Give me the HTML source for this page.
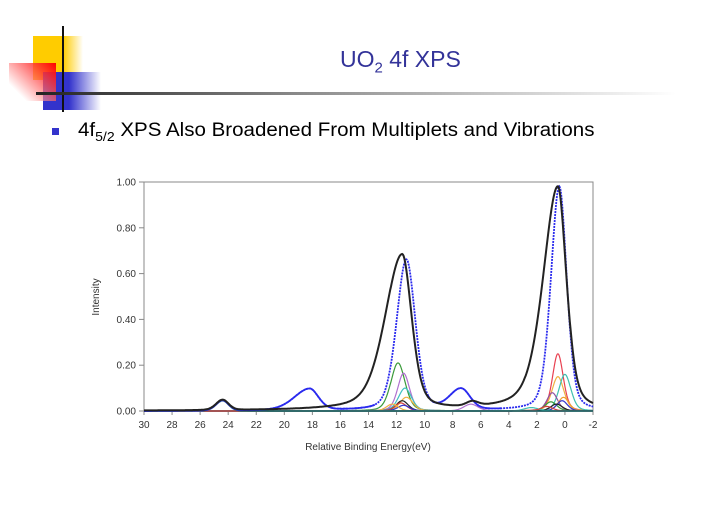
<!DOCTYPE html>
<html><head><meta charset="utf-8"><style>
body{margin:0;width:717px;height:509px;background:#fff;overflow:hidden;position:relative;font-family:"Liberation Sans",sans-serif}
.a{position:absolute}
</style></head><body>
<div class="a" style="left:33px;top:36px;width:50px;height:44px;background:linear-gradient(90deg,#ffcc00 60%,#fff)"></div>
<div class="a" style="left:43px;top:72px;width:58px;height:38px;background:linear-gradient(90deg,#3333cc 45%,#fff)"></div>
<div class="a" style="left:9px;top:63px;width:47px;height:38px;background:linear-gradient(225deg,#ff0000,rgba(255,255,255,0.5) 80%)"></div>
<div class="a" style="left:62px;top:26px;width:2px;height:86px;background:#111"></div>
<div class="a" style="left:36px;top:92px;width:640px;height:3px;background:linear-gradient(90deg,#222,#888 40%,#fff)"></div>
<div class="a" style="left:340px;top:46px;font-size:23px;color:#333399;white-space:nowrap">UO<sub style="font-size:15px">2</sub> 4f XPS</div>
<div class="a" style="left:52px;top:128px;width:7px;height:7px;background:#3333cc"></div>
<div class="a" style="left:78px;top:120px;font-size:19px;color:#000;white-space:nowrap;transform:scaleX(1.08);transform-origin:0 0">4f<sub style="font-size:13px">5/2</sub> XPS Also Broadened From Multiplets and Vibrations</div>
<svg class="a" style="left:0;top:0" width="717" height="509" id="s">
<rect x="144" y="182" width="449" height="229" fill="none" stroke="#888" stroke-width="1"/>
<g id="g"></g>
</svg>
<script>
var X=function(e){return 144+(30-e)*449/32},Y=function(v){return 411-v*229};
var s='',g=document.getElementById('g');
for(var i=0;i<=5;i++){var v=i*0.2,y=Y(v);s+='<line x1="139" x2="144" y1="'+y+'" y2="'+y+'" stroke="#888"/><text x="136" y="'+(y+3.5)+'" font-size="10" fill="#333" text-anchor="end">'+v.toFixed(2)+'</text>';}
for(var e=30;e>=-2;e-=2){var x=X(e);s+='<line x1="'+x+'" x2="'+x+'" y1="411" y2="415" stroke="#888"/><text x="'+x+'" y="428" font-size="10" fill="#333" text-anchor="middle">'+e+'</text>';}
s+='<text x="368" y="450" font-size="10" fill="#333" text-anchor="middle">Relative Binding Energy(eV)</text>';
s+='<text transform="translate(99,297) rotate(-90)" font-size="10" fill="#333" text-anchor="middle">Intensity</text>';
function pv(x,c,h,wl,wr,m){var w=x>c?wl:wr,d=(x-c)/w;return h*(m/(1+d*d)+(1-m)*Math.exp(-0.693*d*d));}
function path(f,col,wd,dash){var p='';for(var e=30;e>=-2.001;e-=0.05){var v=f(e);if(v<-0.5){continue;}p+=(p?'L':'M')+X(e).toFixed(1)+','+Y(v).toFixed(1);}
return '<path d="'+p+'" fill="none" stroke="'+col+'" stroke-width="'+wd+'"'+(dash?' stroke-dasharray="'+dash+'"':'')+'/>';}
var comps=[
['#3a9a3a',11.9,0.21,0.6],['#b070d0',11.5,0.165,0.5],['#40c0c0',11.4,0.10,0.55],['#f0b040',11.3,0.06,0.55],['#222',11.6,0.045,0.5],['#d04040',11.7,0.035,0.5],['#3333cc',11.5,0.025,0.5],['#f0b040',12.3,0.03,0.5],['#b070d0',6.7,0.03,0.6],
['#e84050',0.5,0.25,0.45],['#f0b040',0.5,0.15,0.5],['#40c0b0',0.0,0.16,0.5],['#9050a0',0.9,0.08,0.45],['#f0a030',0.1,0.06,0.45],['#3a9a3a',1.0,0.04,0.5],['#3333cc',0.2,0.045,0.45],['#222',0.6,0.03,0.5],['#40c0b0',2.4,0.015,0.6],['#d04040',1.3,0.02,0.5]];
comps.forEach(function(c){s+=path(function(e){return pv(e,c[1],c[2],c[3],c[3],0.3);},c[0],1.2);});
var blue=function(e){return pv(e,0.4,0.98,0.7,0.62,0.3)+pv(e,11.3,0.66,0.82,0.75,0.3)+pv(e,7.4,0.09,0.95,0.75,0.2)+pv(e,18.2,0.095,1.3,0.75,0.3)+pv(e,24.4,0.045,0.55,0.5,0.2);};
var black=function(e){return pv(e,0.5,0.98,1.25,0.72,0.45)+pv(e,11.6,0.68,1.45,0.8,0.4)+pv(e,6.6,0.02,0.5,0.5,0.2)+pv(e,24.4,0.045,0.55,0.5,0.2);};
s+=path(function(e){return pv(e,24.4,0.045,0.55,0.5,0.2);},'#1a6a6a',1.5);
s+=path(blue,'#2a2aee',1.8,'2 1');
s+=path(function(e){return e>13.5?blue(e):-1;},'#2a2aee',1.8)+path(function(e){return (e<9.8&&e>4.5)?blue(e):-1;},'#2a2aee',1.8);
s+=path(black,'#222',2);
g.innerHTML=s;
</script>
</body></html>
